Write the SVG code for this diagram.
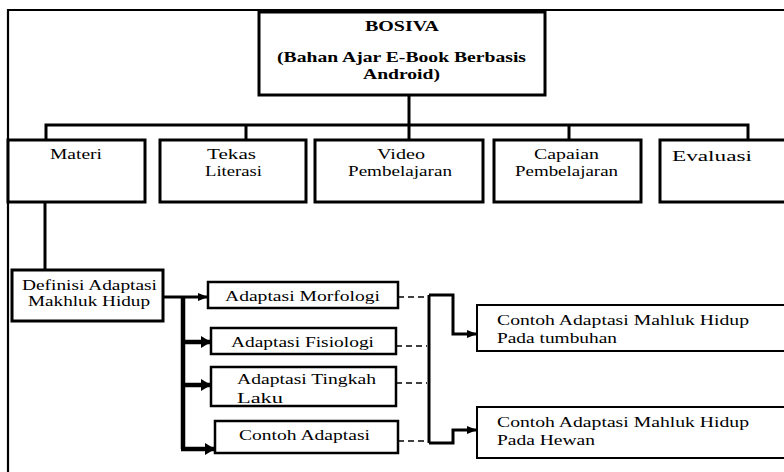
<svg xmlns="http://www.w3.org/2000/svg" width="784" height="472" viewBox="0 0 784 472">
<style>
text{font-family:"Liberation Serif","Times New Roman",serif;font-size:14px;fill:#000}
.b{font-weight:bold}
.lo{font-size:15px}
.box{fill:#fff;stroke:#000;stroke-width:3}
.box2{fill:#fff;stroke:#000;stroke-width:2.5}
.box3{fill:#fff;stroke:#000;stroke-width:2}
.ln{fill:none;stroke:#000;stroke-width:3}
.th{fill:none;stroke:#000;stroke-width:4.5}
.ds{fill:none;stroke:#000;stroke-width:1.4;stroke-dasharray:6 4}
</style>
<defs>
<marker id="ah" markerWidth="10" markerHeight="10" refX="9" refY="5" orient="auto" markerUnits="userSpaceOnUse" viewBox="0 0 10 10">
<path d="M0,1 L10,5 L0,9 Z" fill="#000"/>
</marker>
<marker id="ahb" markerWidth="10" markerHeight="12" refX="9" refY="6" orient="auto" markerUnits="userSpaceOnUse" viewBox="0 0 10 12">
<path d="M0,0 L10,6 L0,12 Z" fill="#000"/>
</marker>
</defs>
<rect width="784" height="472" fill="#fff"/>
<g id="frame">
<path d="M8,472 V10 H784" fill="none" stroke="#000" stroke-width="2.2"/>
</g>
<g id="connectors">
<path class="ln" d="M409,95 V125"/>
<path class="ln" d="M46,140 V125 H748 V140"/>
<path class="ln" d="M246,125 V140 M569,125 V140 M409,125 V140"/>
<path class="ln" d="M45,202 V270"/>
<path class="ln" d="M163,297 H185"/>
<path class="ln" d="M185,297 H207" stroke-width="3.5" marker-end="url(#ah)"/>
<path class="th" d="M183,297 V449"/>
<path class="th" d="M181,342 H210" marker-end="url(#ahb)"/>
<path class="th" d="M181,385 H210" marker-end="url(#ahb)"/>
<path class="th" d="M181,449 H214" marker-end="url(#ahb)"/>
<path class="ds" d="M398,297 H427 M396,346 H427 M396,383 H427 M398,441 H427"/>
<path class="ln" d="M429,295 V443" stroke-width="2.5"/>
<path class="ln" d="M429,295 H453 V334 H476" stroke-width="2.5" marker-end="url(#ah)"/>
<path class="ln" d="M429,443 H453 V430 H476" stroke-width="2.5" marker-end="url(#ah)"/>
</g>
<g id="bosiva">
<rect class="box" x="259" y="12" width="286" height="83"/>
<text class="b" x="365" y="31" textLength="74" lengthAdjust="spacingAndGlyphs">BOSIVA</text>
<text class="b" x="277" y="62" textLength="249" lengthAdjust="spacingAndGlyphs">(Bahan Ajar E-Book Berbasis</text>
<text class="b" x="363" y="79" textLength="77" lengthAdjust="spacingAndGlyphs">Android)</text>
</g>
<g id="materi">
<rect class="box" x="8" y="140" width="137" height="62"/>
<text x="50" y="159" textLength="52" lengthAdjust="spacingAndGlyphs">Materi</text>
</g>
<g id="tekas">
<rect class="box" x="160" y="140" width="146" height="62"/>
<text x="207" y="159" textLength="49" lengthAdjust="spacingAndGlyphs">Tekas</text>
<text x="205" y="176" textLength="57" lengthAdjust="spacingAndGlyphs">Literasi</text>
</g>
<g id="video">
<rect class="box" x="315" y="140" width="168" height="62"/>
<text x="377" y="159" textLength="48" lengthAdjust="spacingAndGlyphs">Video</text>
<text x="348" y="176" textLength="104" lengthAdjust="spacingAndGlyphs">Pembelajaran</text>
</g>
<g id="capaian">
<rect class="box" x="494" y="140" width="147" height="62"/>
<text x="534" y="159" textLength="65" lengthAdjust="spacingAndGlyphs">Capaian</text>
<text x="515" y="176" textLength="103" lengthAdjust="spacingAndGlyphs">Pembelajaran</text>
</g>
<g id="evaluasi">
<rect class="box" x="660" y="140" width="140" height="62"/>
<text x="672" y="161" textLength="80" lengthAdjust="spacingAndGlyphs">Evaluasi</text>
</g>
<g id="definisi">
<rect class="box" x="12" y="270" width="151" height="51"/>
<text class="lo" x="22" y="290" textLength="135" lengthAdjust="spacingAndGlyphs">Definisi Adaptasi</text>
<text class="lo" x="28" y="306" textLength="122" lengthAdjust="spacingAndGlyphs">Makhluk Hidup</text>
</g>
<g id="morfologi">
<rect class="box2" x="208" y="282" width="190" height="26"/>
<text class="lo" x="225" y="301" textLength="155" lengthAdjust="spacingAndGlyphs">Adaptasi Morfologi</text>
</g>
<g id="fisiologi">
<rect class="box2" x="211" y="328" width="185" height="26"/>
<text class="lo" x="231" y="347" textLength="143" lengthAdjust="spacingAndGlyphs">Adaptasi Fisiologi</text>
</g>
<g id="tingkah">
<rect class="box2" x="211" y="367" width="185" height="39"/>
<text class="lo" x="237" y="384" textLength="139" lengthAdjust="spacingAndGlyphs">Adaptasi Tingkah</text>
<text class="lo" x="237" y="403" textLength="46" lengthAdjust="spacingAndGlyphs">Laku</text>
</g>
<g id="contoh">
<rect class="box2" x="215" y="421" width="183" height="32"/>
<text class="lo" x="239" y="440" textLength="131" lengthAdjust="spacingAndGlyphs">Contoh Adaptasi</text>
</g>
<g id="tumbuhan">
<rect class="box3" x="477" y="305" width="320" height="46"/>
<text class="lo" x="497" y="325" textLength="252" lengthAdjust="spacingAndGlyphs">Contoh Adaptasi Mahluk Hidup</text>
<text class="lo" x="497" y="343" textLength="120" lengthAdjust="spacingAndGlyphs">Pada tumbuhan</text>
</g>
<g id="hewan">
<rect class="box3" x="477" y="407" width="320" height="51"/>
<text class="lo" x="497" y="427" textLength="252" lengthAdjust="spacingAndGlyphs">Contoh Adaptasi Mahluk Hidup</text>
<text class="lo" x="497" y="445" textLength="98" lengthAdjust="spacingAndGlyphs">Pada Hewan</text>
</g>
</svg>
